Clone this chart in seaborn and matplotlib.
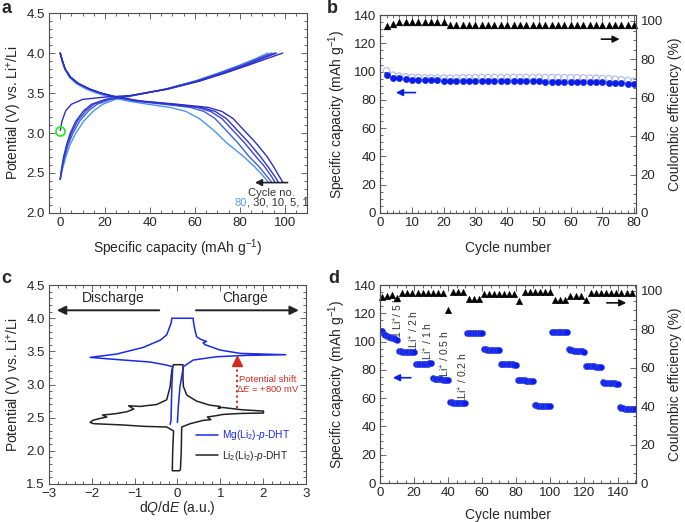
import numpy as np
import pandas as pd
import seaborn as sns
import matplotlib.pyplot as plt
from matplotlib.ticker import MultipleLocator
from matplotlib.lines import Line2D

# ---------------- data ----------------
# a: charge / discharge profiles (capacity in mAh/g, potential in V)
cycles_a = ['1', '5', '10', '30', '80']
colors_a = ['#2e2ec4', '#3434cc', '#3a44d6', '#3f5ee0', '#4b93f2']

dis_v = [4.00, 3.90, 3.80, 3.70, 3.62, 3.55, 3.50, 3.45, 3.40, 3.36, 3.32, 3.27, 3.18, 3.03, 2.88, 2.71, 2.58, 2.46, 2.39]
dis_cap_1 = [0, 1.0, 2.2, 4.5, 8, 13, 18, 25, 36, 52, 66, 72, 77, 82, 87, 92, 95, 97.5, 99]
dis_cap_5 = [0, 1.0, 2.2, 4.5, 8, 13, 18, 25, 35, 50, 63, 69, 74, 79, 84, 89, 92.5, 95.5, 97]
dis_cap_10 = [0, 1.0, 2.2, 4.5, 8, 13, 18, 25, 34, 48, 61, 67, 72, 77, 82, 87, 91, 94, 95.5]
dis_cap_30 = [0, 1.0, 2.2, 4.5, 8, 13, 18, 24.5, 33, 46, 58, 64, 69, 74, 79, 84, 88.5, 92, 94]
dis_cap_80 = [0, 0.8, 2.0, 4.0, 7, 11.5, 16, 22, 30, 39, 49, 56, 62, 68.5, 74, 81.5, 86.5, 90.5, 92.5]

chg_v = [2.42, 2.55, 2.70, 2.85, 3.00, 3.15, 3.28, 3.36, 3.42, 3.47, 3.55, 3.65, 3.75, 3.85, 3.93, 4.00]
chg_cap_5 = [0, 0.6, 1.5, 2.8, 4.5, 7.0, 10.5, 14, 20, 32, 48, 62, 73, 83, 90, 96.4]
chg_cap_10 = [0, 0.7, 1.7, 3.1, 5.0, 7.7, 11.5, 15, 21, 32, 47.5, 61, 72, 82, 89, 95.6]
chg_cap_30 = [0, 0.8, 2.0, 3.5, 5.7, 8.7, 12.7, 16.5, 22.5, 32, 47, 60.5, 71, 81, 88, 94.2]
chg_cap_80 = [0, 1.0, 2.5, 4.3, 7.0, 10.5, 15, 19, 24.5, 33, 47, 60, 70.5, 80, 87, 92.5]
first_chg_v = [3.03, 3.15, 3.28, 3.36, 3.42, 3.45, 3.47, 3.55, 3.65, 3.75, 3.85, 3.93, 4.00]
first_chg_cap = [0, 0.8, 2.5, 5, 10, 20, 32, 48, 62, 73.5, 84, 92, 99.1]

# b: cycling at constant rate
cycle_b = list(range(2, 81, 2))
cap_b_fill = [97.6, 95.8, 95.2, 94.7, 94.4, 94.2, 94.0, 93.9, 93.8, 93.7,
              93.6, 93.5, 93.5, 93.4, 93.4, 93.3, 93.3, 93.3, 93.2, 93.2,
              93.2, 93.2, 93.1, 93.1, 93.1, 93.0, 93.0, 93.0, 92.9, 92.9,
              92.8, 92.7, 92.6, 92.5, 92.4, 92.2, 92.0, 91.8, 91.5, 91.2]
cap_b_open = [100.5, 97.5, 96.8, 96.3, 96.0, 95.8, 95.6, 95.5, 95.5, 95.4,
              95.4, 95.5, 95.6, 95.7, 95.8, 95.8, 95.9, 95.9, 95.9, 95.9,
              95.9, 95.9, 95.9, 95.9, 95.9, 95.8, 95.8, 95.8, 95.7, 95.7,
              95.6, 95.5, 95.4, 95.3, 95.2, 95.0, 94.6, 94.2, 93.7, 93.3]
ce_b = [97.1, 98.3] + [99.2] * 8 + [97.9] * 30

# c: dQ/dE curves
mg_dqde = [0.00, 0.02, 0.06, 0.14, 0.37, 0.92, 1.60, 2.53, 1.47, 1.00, 0.65, 0.60, 0.68, 0.55, 0.45,
           0.40, 0.37, 0.37, -0.13, -0.15, -0.25, -0.40, -0.80, -1.42, -2.04, -1.57, -0.64, -0.30,
           -0.11, -0.13, -0.15, -0.17]
mg_v = [2.43, 2.66, 2.97, 3.27, 3.37, 3.42, 3.44, 3.45, 3.47, 3.52, 3.60, 3.63, 3.65, 3.68, 3.72,
        3.85, 3.97, 4.00, 4.00, 3.92, 3.75, 3.67, 3.56, 3.46, 3.41, 3.385, 3.34, 3.30,
        3.27, 2.97, 2.46, 2.40]
li_dqde = [-0.09, 0.13, 0.13, 0.14, 0.22, 0.45, 0.75, 1.00, 0.95, 1.05, 1.50, 2.01, 2.01, 1.50, 1.07,
           0.90, 0.70, 0.78, 0.60, 0.30, 0.10, 0.09, 0.07, 0.05, -0.12, -0.11, -0.09, -0.25, -0.80,
           -1.26, -1.96, -2.04, -1.98, -1.80, -1.65, -1.75, -1.45, -1.18, -1.02, -1.14, -0.87,
           -0.48, -0.25, -0.17, -0.13, -0.09]
li_v = [3.30, 3.30, 3.10, 2.97, 2.84, 2.75, 2.69, 2.67, 2.64, 2.655, 2.62, 2.60, 2.57, 2.565, 2.55,
        2.53, 2.51, 2.47, 2.46, 2.41, 2.36, 2.00, 1.72, 1.70, 1.70, 2.00, 2.30, 2.36, 2.37,
        2.39, 2.41, 2.43, 2.46, 2.49, 2.51, 2.54, 2.56, 2.59, 2.63, 2.68, 2.67,
        2.70, 2.77, 2.97, 3.22, 3.30]

# d: rate capability
cycle_d = list(range(1, 151))
cap_d = ([107.5, 105.5, 104.5, 104.0, 103.5, 103.0, 102.5, 102.5, 102.0, 101.5] +
         [93.5, 93.2, 93.0, 93.0, 92.9, 92.8, 92.8, 92.7, 92.6, 92.5] +
         [84.0, 84.2, 84.3, 84.3, 84.4, 84.4, 84.5, 84.5, 84.6, 84.6] +
         [74.0, 73.6, 73.5, 73.4, 73.3, 73.3, 73.2, 73.2, 73.2, 73.1] +
         [57.5, 57.0, 56.8, 56.6, 56.5, 56.5, 56.4, 56.4, 56.4, 56.5] +
         [106.0, 106.0, 106.0, 106.0, 106.0, 106.0, 106.0, 106.0, 106.0, 106.2] +
         [95.0, 94.5, 94.3, 94.2, 94.1, 94.0, 94.0, 94.0, 94.0, 93.8] +
         [84.5, 84.3, 84.2, 84.1, 84.0, 84.0, 84.0, 83.9, 83.8, 83.5] +
         [73.0, 72.9, 72.8, 72.7, 72.6, 72.5, 72.4, 72.3, 72.2, 72.0] +
         [55.5, 55.0, 54.8, 54.6, 54.5, 54.4, 54.3, 54.3, 54.2, 54.2] +
         [107.0, 107.0, 107.0, 107.0, 107.0, 107.0, 107.0, 107.0, 107.0, 107.0] +
         [94.5, 94.0, 93.8, 93.7, 93.6, 93.5, 93.4, 93.3, 93.2, 93.0] +
         [83.0, 82.8, 82.7, 82.6, 82.5, 82.5, 82.4, 82.3, 82.2, 82.0] +
         [71.5, 71.0, 70.9, 70.8, 70.7, 70.6, 70.5, 70.5, 70.4, 70.3] +
         [53.5, 53.0, 52.8, 52.7, 52.6, 52.5, 52.5, 52.4, 52.4, 52.3])
cycle_d_ce = list(range(1, 150, 3))
ce_d = ([97.0, 97.6, 97.9, 96.2] + [98.8] * 9 + [90.2] + [99.3] * 3 + [95.9] * 3 +
        [98.5] * 7 + [94.5] + [99.6] * 6 + [95.3] * 3 + [97.6] * 3 + [95.3] + [98.8] * 9)
rate_labels = ['1 Li$^{+}$/ 5 h', '1Li$^{+}$ / 2 h', '1Li$^{+}$ / 1 h', '1Li$^{+}$ / 0.5 h', '1Li$^{+}$ / 0.2 h']
rate_label_x = [10.5, 20, 28.5, 38.3, 49]
rate_label_y = [117.6, 107, 98.7, 90, 74]

# ---------------- style ----------------
sns.set_style('ticks')
plt.rcParams['font.family'] = ['Liberation Sans', 'DejaVu Sans']
plt.rcParams['mathtext.fontset'] = 'custom'
plt.rcParams['mathtext.rm'] = 'Liberation Sans'
plt.rcParams['mathtext.it'] = 'Liberation Sans:italic'
plt.rcParams['mathtext.bf'] = 'Liberation Sans:bold'

EDGE = '#4d4d4d'
BLUE = '#0b1ee8'
LBL = 10
TCK = 9.5


def style(ax, xmaj, xmin, ymaj, ymin, right=True):
    ax.xaxis.set_major_locator(MultipleLocator(xmaj))
    ax.xaxis.set_minor_locator(MultipleLocator(xmin))
    ax.yaxis.set_major_locator(MultipleLocator(ymaj))
    ax.yaxis.set_minor_locator(MultipleLocator(ymin))
    ax.tick_params(which='both', direction='in', top=True, right=right, color=EDGE,
                   width=0.6, labelsize=TCK, pad=3)
    ax.tick_params(which='major', length=4)
    ax.tick_params(which='minor', length=2)
    for s in ax.spines.values():
        s.set_color(EDGE)
        s.set_linewidth(0.8)


def style_right(ax2):
    ax2.set_ylim(0, 103)
    ax2.yaxis.set_major_locator(MultipleLocator(20))
    ax2.yaxis.set_minor_locator(MultipleLocator(5))
    ax2.tick_params(which='both', direction='in', color=EDGE, width=0.6, labelsize=TCK, pad=3)
    ax2.tick_params(which='major', length=4)
    ax2.tick_params(which='minor', length=2)
    ax2.set_ylabel('Coulombic efficiency (%)', fontsize=LBL)
    for s in ax2.spines.values():
        s.set_color(EDGE)
        s.set_linewidth(0.8)


fig = plt.figure(figsize=(6.85, 5.22), dpi=100)

# ---------------- panel a ----------------
ax = fig.add_axes([0.0715, 0.592, 0.377, 0.383])
dis_caps = [dis_cap_1, dis_cap_5, dis_cap_10, dis_cap_30, dis_cap_80]
chg_caps = [None, chg_cap_5, chg_cap_10, chg_cap_30, chg_cap_80]
for i in range(4, -1, -1):
    sns.lineplot(x=dis_caps[i], y=dis_v, sort=False, estimator=None, color=colors_a[i], lw=1.0, ax=ax)
    if chg_caps[i] is not None:
        sns.lineplot(x=chg_caps[i], y=chg_v, sort=False, estimator=None, color=colors_a[i], lw=1.0, ax=ax)
sns.lineplot(x=first_chg_cap, y=first_chg_v, sort=False, estimator=None, color=colors_a[0], lw=1.0, ax=ax)
ax.plot([first_chg_cap[0]], [first_chg_v[0]], 'o', mfc='none', mec='#2ee82e', mew=1.3, ms=6.5, zorder=5)
ax.set_xlim(-5, 110)
ax.set_ylim(2.0, 4.5)
style(ax, 20, 5, 0.5, 0.1)
ax.set_xlabel('Specific capacity (mAh g$^{-1}$)', fontsize=LBL, labelpad=6)
ax.set_ylabel('Potential (V) vs. Li$^{+}$/Li', fontsize=LBL, labelpad=2)
ax.annotate('', xy=(85.5, 2.38), xytext=(102.5, 2.38),
            arrowprops=dict(arrowstyle='-|>', color='#222222', lw=1.2, mutation_scale=10))
ax.text(94, 2.25, 'Cycle no.', ha='center', va='center', fontsize=8, color='#333333')
ax.text(83, 2.13, '80', ha='right', va='center', fontsize=8, color='#5a9cf5')
ax.text(83, 2.13, ', 30, 10, 5, 1', ha='left', va='center', fontsize=8, color='#333333')

# ---------------- panel b ----------------
ax = fig.add_axes([0.555, 0.592, 0.374, 0.379])
sns.scatterplot(x=cycle_b, y=cap_b_open, marker='o', s=22, facecolor='none',
                edgecolor='#b4bdf4', linewidth=0.9, ax=ax, zorder=3)
sns.scatterplot(x=cycle_b, y=cap_b_fill, marker='o', s=20, color=BLUE,
                edgecolor=BLUE, linewidth=0.4, ax=ax, zorder=4)
ax.set_xlim(0, 80.7)
ax.set_ylim(0, 140)
style(ax, 10, 2, 20, 5, right=False)
ax.set_xlabel('Cycle number', fontsize=LBL, labelpad=8.5)
ax.set_ylabel('Specific capacity (mAh g$^{-1}$)', fontsize=LBL)
ax.annotate('', xy=(4.1, 85.2), xytext=(12, 85.2),
            arrowprops=dict(arrowstyle='-|>', color=BLUE, lw=1.2, mutation_scale=10))
ax.annotate('', xy=(76.3, 123), xytext=(68.8, 123),
            arrowprops=dict(arrowstyle='-|>', color='#111111', lw=1.2, mutation_scale=10))
ax2 = ax.twinx()
sns.scatterplot(x=cycle_b, y=ce_b, marker='^', s=24, color='black', edgecolor='black',
                linewidth=0.3, ax=ax2, clip_on=False)
style_right(ax2)

# ---------------- panel c ----------------
ax = fig.add_axes([0.0715, 0.0728, 0.375, 0.381])
sns.lineplot(x=li_dqde, y=li_v, sort=False, estimator=None, color='#222222', lw=1.1, ax=ax)
sns.lineplot(x=mg_dqde, y=mg_v, sort=False, estimator=None, color='#1a2ae6', lw=1.1, ax=ax)
ax.set_xlim(-3, 3)
ax.set_ylim(1.5, 4.5)
style(ax, 1, 0.2, 0.5, 0.1)
ax.set_xlabel('d$Q$/d$E$ (a.u.)', fontsize=LBL, labelpad=-1)
ax.set_ylabel('Potential (V) vs. Li$^{+}$/Li', fontsize=LBL, labelpad=2)
ax.annotate('', xy=(-2.88, 4.12), xytext=(-0.36, 4.12),
            arrowprops=dict(arrowstyle='-|>', color='#222222', lw=1.4, mutation_scale=13))
ax.annotate('', xy=(2.9, 4.12), xytext=(0.37, 4.12),
            arrowprops=dict(arrowstyle='-|>', color='#222222', lw=1.4, mutation_scale=13))
ax.text(-1.5, 4.3, 'Discharge', ha='center', va='center', fontsize=LBL)
ax.text(1.58, 4.3, 'Charge', ha='center', va='center', fontsize=LBL)
RED = '#d42a22'
ax.plot([1.4, 1.4], [2.64, 3.32], ls=(0, (1, 1.5)), color=RED, lw=1.5)
ax.plot([1.4], [3.35], marker='^', color=RED, ms=7)
ax.text(2.12, 3.08, 'Potential shift', ha='center', va='center', fontsize=6.8, color=RED)
ax.text(2.12, 2.93, 'Δ$E$ = +800 mV', ha='center', va='center', fontsize=6.8, color=RED)
handles = [Line2D([], [], color='#1a2ae6', lw=1.1), Line2D([], [], color='#222222', lw=1.1)]
leg = ax.legend(handles, ['Mg(Li$_2$)-$p$-DHT', 'Li$_2$(Li$_2$)-$p$-DHT'], loc='lower right',
                bbox_to_anchor=(0.975, 0.06), frameon=False, fontsize=7.3, handlelength=2.2,
                handletextpad=0.4, labelspacing=0.65)
leg.get_texts()[0].set_color('#1a2ae6')
leg.get_texts()[1].set_color('#222222')

# ---------------- panel d ----------------
ax = fig.add_axes([0.555, 0.0747, 0.374, 0.379])
sns.scatterplot(x=cycle_d, y=cap_d, marker='o', s=20, color=BLUE, edgecolor='#4a58f0',
                linewidth=0.3, ax=ax, zorder=4)
ax.set_xlim(0, 150.8)
ax.set_ylim(0, 140)
style(ax, 20, 5, 20, 5, right=False)
ax.set_xlabel('Cycle number', fontsize=LBL, labelpad=6)
ax.set_ylabel('Specific capacity (mAh g$^{-1}$)', fontsize=LBL)
for lab, lx, ly in zip(rate_labels, rate_label_x, rate_label_y):
    ax.text(lx, ly, lab, rotation=90, ha='center', va='center', fontsize=7.5, color='#333333')
ax.annotate('', xy=(5.9, 74.5), xytext=(19.7, 74.5),
            arrowprops=dict(arrowstyle='-|>', color=BLUE, lw=1.2, mutation_scale=10))
ax.annotate('', xy=(146.5, 127.5), xytext=(131.8, 127.5),
            arrowprops=dict(arrowstyle='-|>', color='#111111', lw=1.2, mutation_scale=10))
ax2 = ax.twinx()
sns.scatterplot(x=cycle_d_ce, y=ce_d, marker='^', s=22, color='black', edgecolor='black',
                linewidth=0.3, ax=ax2, clip_on=False)
style_right(ax2)

# panel letters
for lab, x, y in [('a', 0.002, 0.975), ('b', 0.477, 0.975), ('c', 0.002, 0.457), ('d', 0.479, 0.457)]:
    fig.text(x, y, lab, fontsize=13, fontweight='bold', va='baseline', ha='left')

fig.savefig('out.png', dpi=100)
